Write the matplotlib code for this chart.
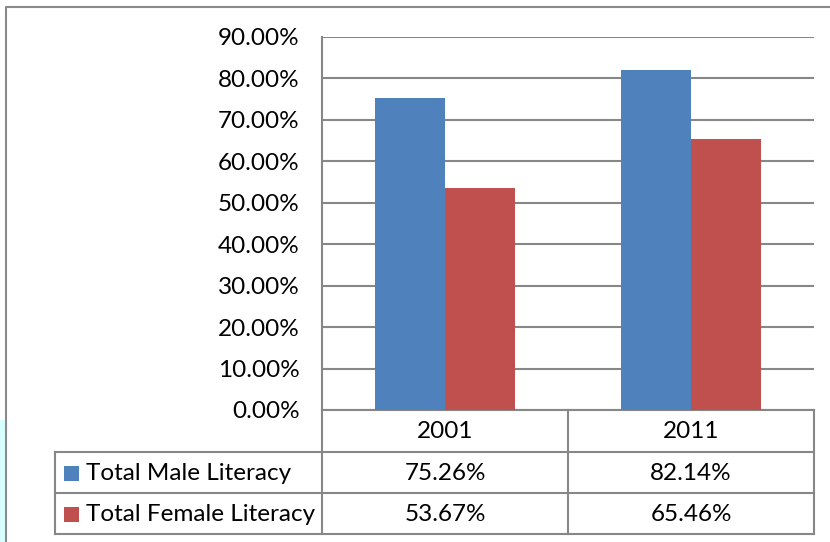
import numpy as np
import matplotlib
matplotlib.use("Agg")
import matplotlib.pyplot as plt
from matplotlib import transforms
from matplotlib.patches import Rectangle

categories = ["2001", "2011"]
series_names = ["Total Male Literacy", "Total Female Literacy"]
male = [75.26, 82.14]
female = [53.67, 65.46]
y_ticks = [0, 10, 20, 30, 40, 50, 60, 70, 80, 90]

BLUE = "#4F81BD"
RED = "#C0504D"
GRID = "#878787"
FONT = "Lato"
FS = 17.5

W, H = 830, 542
fig = plt.figure(figsize=(W / 100, H / 100), dpi=100)

# overlay layer in pixel coordinates (for table / border)
lay = fig.add_axes([0, 0, 1, 1])
lay.set_xlim(0, W)
lay.set_ylim(H, 0)
lay.axis("off")

x0, x1, ytop, ybot = 322, 814, 37, 410
ax = fig.add_axes([x0 / W, (H - ybot) / H, (x1 - x0) / W, (ybot - ytop) / H])
ax.set_zorder(2)
ax.patch.set_alpha(0)

x = np.arange(len(categories))
bw = 0.285
ax.bar(x - bw / 2, male, bw, color=BLUE, zorder=3)
ax.bar(x + bw / 2, female, bw, color=RED, zorder=3)
ax.set_xlim(-0.5, len(categories) - 0.5)
ax.set_ylim(0, 90)
ax.set_yticks(y_ticks)
ax.set_yticklabels([f"{v:.2f}%" for v in y_ticks], fontfamily=FONT, fontsize=FS)
ax.tick_params(axis="y", length=0, pad=16)
ax.set_xticks([])
ax.grid(axis="y", color=GRID, linewidth=1.5, zorder=0)
for s in ["top", "right", "bottom"]:
    ax.spines[s].set_visible(False)
ax.spines["left"].set_color(GRID)
ax.spines["left"].set_linewidth(1.5)

# outer border and cyan strip
lay.add_patch(Rectangle((0, 420), 5, H - 420, color="#D8FFFF", lw=0))
lay.plot([6, 6, W], [H, 7, 7], color="#8A8A8A", lw=1.5, solid_capstyle="butt")

# data table
tx0 = 55
rows_y = [410, 452, 493, 534]
lc = dict(color=GRID, lw=1.5, solid_capstyle="projecting")
lay.plot([x0, x1], [rows_y[0], rows_y[0]], **lc)
for yy in rows_y[1:]:
    lay.plot([tx0, x1], [yy, yy], **lc)
lay.plot([tx0, tx0], [rows_y[1], rows_y[3]], **lc)
colx = [x0, (x0 + x1) / 2, x1]
for cx in colx:
    lay.plot([cx, cx], [rows_y[0], rows_y[3]], **lc)

bt = transforms.blended_transform_factory(ax.transData, lay.transData)
for i, c in enumerate(categories):
    lay.text(x[i], (rows_y[0] + rows_y[1]) / 2 + 1, c, transform=bt, ha="center", va="center",
             fontfamily=FONT, fontsize=FS)
for r, (vals, name, col) in enumerate(zip([male, female], series_names, [BLUE, RED])):
    yc = (rows_y[r + 1] + rows_y[r + 2]) / 2 + 1
    for i, v in enumerate(vals):
        lay.text(x[i], yc, f"{v:.2f}%", transform=bt, ha="center", va="center",
                 fontfamily=FONT, fontsize=FS)
    lay.add_patch(Rectangle((64, yc - 8), 15, 15, color=col, lw=0))
    lay.text(86, yc, name, ha="left", va="center", fontfamily=FONT, fontsize=FS)

fig.savefig("out.png", dpi=100)
